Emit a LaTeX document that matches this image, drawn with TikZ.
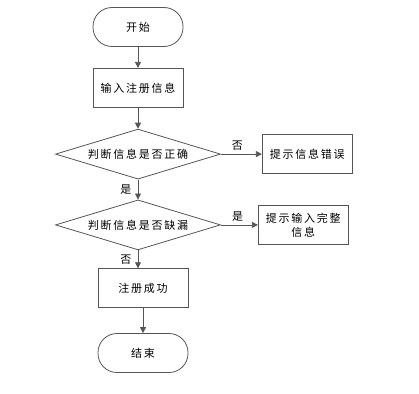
\documentclass[tikz,border=0pt]{standalone}
\usepackage{fontspec}
\setmainfont[LetterSpace=16]{Noto Sans CJK SC}
\usetikzlibrary{arrows.meta,positioning,shapes.geometric}
\definecolor{linegray}{HTML}{555555}

\begin{document}
\begin{tikzpicture}[>={Triangle[length=6pt,width=6pt]},x=1pt,y=-1pt,font=\fontsize{11pt}{14pt}\selectfont]
  \tikzstyle{box}=[draw=linegray,line width=0.8pt,minimum width=90pt,minimum height=39pt,align=center,inner sep=2pt]
  \tikzstyle{term}=[box,rounded corners=19pt]
  \tikzstyle{decide}=[draw=linegray,line width=0.8pt,diamond,aspect=3.3,inner sep=0pt,minimum width=165pt,minimum height=50pt]
  \tikzstyle{arr}=[draw=linegray,line width=0.8pt,->]
  \useasboundingbox (0,0) rectangle (419,393);

  \node[term] (start) at (138,27) {开始};
  \node[box,below=21pt of start] (input) {输入注册信息};
  \node[decide,below=21pt of input] (check) {判断信息是否正确};
  \node[box,right=41pt of check] (wrong) {提示信息错误};
  \node[decide,below=20pt of check] (miss) {判断信息是否缺漏};
  \node[box,right=37pt of miss] (complete) {提示输入完整\\信息};
  \node[box,below=18pt of miss,xshift=5pt] (ok) {注册成功};
  \node[term,below=25pt of ok] (stop) {结束};

  \draw[arr] (start) -- (input);
  \draw[arr] (input) -- (check);
  \draw[arr] (check) -- node[above,pos=0.4] (no1) {否} (wrong);
  \draw[arr] (check) -- node[left=3pt] (yes1) {是} (miss);
  \draw[arr] (miss) -- node[above,pos=0.45] (yes2) {是} (complete);
  \draw[arr] (miss.south) -- node[left=3pt] (no2) {否} (miss.south |- ok.north);
  \draw[arr] (ok) -- (stop);
\end{tikzpicture}
\end{document}
